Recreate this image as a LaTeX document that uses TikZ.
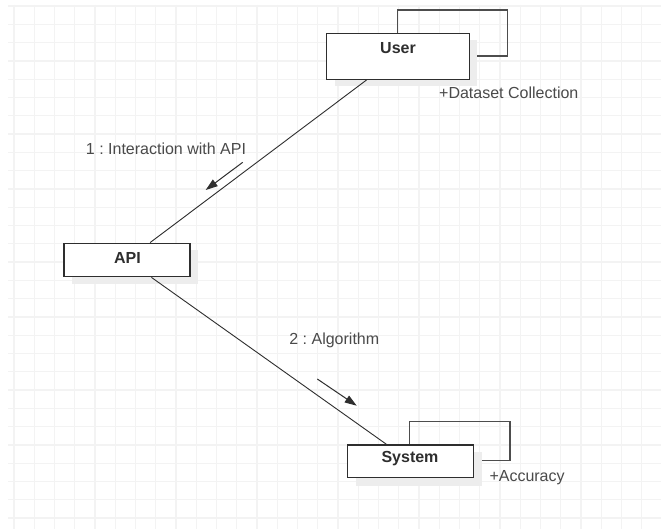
\documentclass[tikz,border=0pt]{standalone}
\usepackage{fontspec}
\setmainfont{Liberation Sans}
\usetikzlibrary{arrows.meta}
\frenchspacing
\definecolor{gridc}{HTML}{F3F3F3}
\definecolor{ink}{HTML}{2E2E2E}
\definecolor{txt}{HTML}{4A4A4A}
\definecolor{shade}{HTML}{EDEDED}
\tikzset{
  objbox/.style={draw=ink, line width=1.4pt, fill=white, inner sep=0pt},
  backbox/.style={draw=ink!85, line width=1.4pt},
  boxshadow/.style={fill=shade, draw=none},
  title/.style={font=\fontsize{16}{19}\selectfont\bfseries, text=ink, inner sep=0pt},
  msg/.style={font=\fontsize{16}{19}\selectfont, text=txt, inner sep=0pt},
  link/.style={draw=ink, line width=0.9pt},
  msgarrow/.style={draw=ink, line width=1pt, -{Triangle[length=12pt,width=8pt]}}
}
\begin{document}
\begin{tikzpicture}[x=1pt,y=-1pt]
  \useasboundingbox (0,0) rectangle (661,529);
  \fill[white] (0,0) rectangle (661,529);
  % background grid
  \foreach \k in {0,...,31}
    \draw[gridc, line width=1.3pt] ({14+20.25*\k},5) -- ({14+20.25*\k},529);
  \foreach \k in {0,...,28}
    \draw[gridc, line width=1.3pt] (8,{6+18.29*\k}) -- (661,{6+18.29*\k});

  % self-link frames behind the objects
  \draw[backbox] (397.7,10) rectangle (507.7,56);
  \draw[backbox] (409.3,421.7) rectangle (510,460.7);

  % drop shadows
  \fill[boxshadow] (335,40) rectangle (477,86);
  \fill[boxshadow] (72,250) rectangle (198,284);
  \fill[boxshadow] (355.5,452) rectangle (481.5,485.5);

  % objects
  \node[objbox, minimum width=142.6pt, minimum height=46pt] (user) at (398,56.3) {};
  \node[objbox, minimum width=126pt, minimum height=33.4pt] (api) at (127,260) {};
  \node[objbox, minimum width=126pt, minimum height=32.7pt] (system) at (410.3,461.3) {};

  \node[title] (usertitle) at (398,48) {User};
  \node[title] (apititle) at (127.5,258) {API};
  \node[title] (systemtitle) at (410,459) {System};

  % links between objects
  \draw[link] (user) -- (api);
  \draw[link] (api) -- (system);

  % messages
  \coordinate (m1s) at (242.7,162.3);
  \coordinate (m1e) at (205.7,190);
  \draw[msgarrow] (m1s) -- (m1e);
  \coordinate (m2s) at (317.3,379);
  \coordinate (m2e) at (356.7,405.7);
  \draw[msgarrow] (m2s) -- (m2e);

  \node[msg] (m1lbl) at (166,148.3) {1 : Interaction with API};
  \node[msg] (m2lbl) at (334.3,340.7) {2 : Algorithm};
  \node[msg, anchor=west] (useratt) at (439,93) {+Dataset Collection};
  \node[msg, anchor=west] (sysatt) at (489.3,477.3) {+Accuracy};
\end{tikzpicture}
\end{document}
